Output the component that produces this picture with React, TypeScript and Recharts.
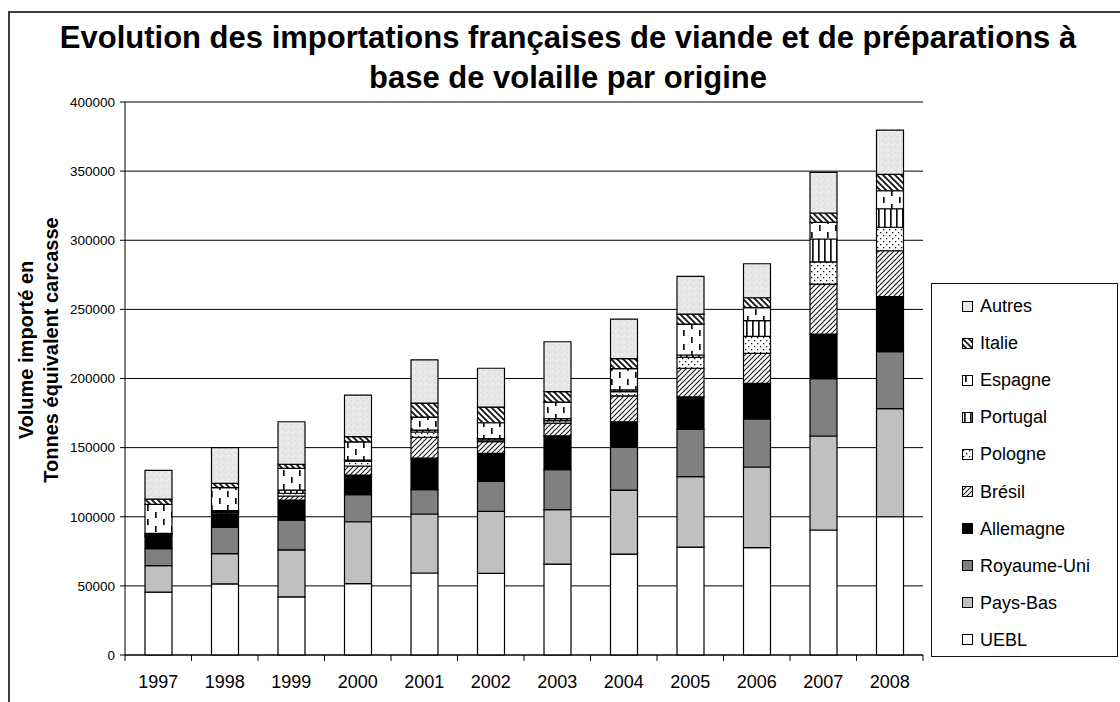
import React from 'react';
import { BarChart, Bar, XAxis, YAxis, CartesianGrid, Legend } from 'recharts';

const years = ['1997', '1998', '1999', '2000', '2001', '2002', '2003', '2004', '2005', '2006', '2007', '2008'];
const uebl = [45500, 51400, 42000, 51600, 59300, 59100, 65800, 73000, 78100, 77600, 90400, 100000];
const paysBas = [19100, 21900, 34000, 44800, 42700, 44800, 39300, 46300, 50900, 58400, 68000, 78200];
const royaumeUni = [12300, 19000, 21500, 19600, 17600, 21700, 28900, 30900, 34300, 34700, 41500, 41200];
const allemagne = [8700, 9700, 14600, 14200, 22900, 20300, 24500, 18500, 23500, 25800, 32300, 39800];
const bresil = [1000, 1000, 2900, 6500, 15000, 8400, 9200, 18700, 20600, 21700, 36100, 33200];
const pologne = [700, 800, 2000, 3600, 3800, 1200, 1800, 3100, 7900, 12300, 16000, 17000];
const portugal = [700, 600, 2300, 700, 1400, 1000, 1500, 1200, 1700, 11300, 16600, 13400];
const espagne = [21000, 16600, 15700, 13100, 9300, 11500, 11900, 15400, 22400, 9400, 12100, 13000];
const italie = [3700, 3200, 2900, 3800, 10200, 11300, 7600, 7300, 7200, 7200, 6700, 11900];
const autres = [20900, 25800, 30800, 30100, 31300, 28100, 36100, 28500, 27300, 24600, 29400, 32000];
const yTicks = [0, 50000, 100000, 150000, 200000, 250000, 300000, 350000, 400000];

const seriesDefs = [
  { key: 'uebl', name: 'UEBL', values: uebl, fill: '#ffffff' },
  { key: 'paysBas', name: 'Pays-Bas', values: paysBas, fill: '#c0c0c0' },
  { key: 'royaumeUni', name: 'Royaume-Uni', values: royaumeUni, fill: '#808080' },
  { key: 'allemagne', name: 'Allemagne', values: allemagne, fill: '#000000' },
  { key: 'bresil', name: 'Brésil', values: bresil, fill: 'url(#pBresil)' },
  { key: 'pologne', name: 'Pologne', values: pologne, fill: 'url(#pPologne)' },
  { key: 'portugal', name: 'Portugal', values: portugal, fill: 'url(#pPortugal)' },
  { key: 'espagne', name: 'Espagne', values: espagne, fill: 'url(#pEspagne)' },
  { key: 'italie', name: 'Italie', values: italie, fill: 'url(#pItalie)' },
  { key: 'autres', name: 'Autres', values: autres, fill: 'url(#pAutres)' },
];

const data = years.map((y, i) => {
  const row: any = { year: y };
  seriesDefs.forEach((s) => { row[s.key] = s.values[i]; });
  return row;
});

const W = 1120;
const H = 702;
const MARGIN = { top: 102, right: 197, bottom: 17, left: 65 };
const Y_AXIS_W = 60;
const PLOT_W = W - MARGIN.left - MARGIN.right - Y_AXIS_W;
const BAND = PLOT_W / years.length;
const FONT = '"Liberation Sans", Arial, Helvetica, sans-serif';

const XTick = (props: any) => {
  const { x, y, payload, index } = props;
  const axisY = y - 6;
  const left = x - BAND / 2;
  const right = x + BAND / 2;
  return (
    <g>
      <line x1={left} x2={left} y1={axisY} y2={axisY + 6} stroke="#000" strokeWidth={1} />
      {index === years.length - 1 && (
        <line x1={right} x2={right} y1={axisY} y2={axisY + 6} stroke="#000" strokeWidth={1} />
      )}
      <text x={x} y={axisY + 33} textAnchor="middle" fontSize={18} fontFamily={FONT} fill="#000">
        {payload.value}
      </text>
    </g>
  );
};

const renderLegend = () => {
  const items = [...seriesDefs].reverse();
  return (
    <div
      style={{
        position: 'relative',
        width: 187,
        height: 374,
        boxSizing: 'border-box',
        border: '1.5px solid #111',
        background: '#fff',
        fontFamily: FONT,
        fontSize: 18,
        color: '#000',
      }}
    >
      {items.map((s, i) => (
        <div
          key={s.key}
          style={{ position: 'absolute', left: 30, top: 22 + i * 37.1 - 12, height: 24, display: 'flex', alignItems: 'center' }}
        >
          <svg width={11} height={11} style={{ display: 'block' }}>
            <rect x={0.5} y={0.5} width={10} height={10} fill={s.fill} stroke="#000" strokeWidth={1} />
          </svg>
          <span style={{ marginLeft: 7, lineHeight: '24px', whiteSpace: 'nowrap' }}>{s.name}</span>
        </div>
      ))}
    </div>
  );
};

export default function App() {
  return (
    <div style={{ position: 'fixed', left: 0, top: 0, width: W, height: H, overflow: 'hidden', background: '#fff' }}>
      <div
        style={{
          position: 'absolute',
          left: 8,
          top: 11,
          width: 1300,
          height: 900,
          borderLeft: '2px solid #3c3c3c',
          borderTop: '2px solid #3c3c3c',
        }}
      />
      <div style={{ position: 'absolute', left: 0, top: 0 }}>
        <BarChart width={W} height={H} data={data} margin={MARGIN} barSize={27}>
          <defs>
            <pattern id="pBresil" patternUnits="userSpaceOnUse" width="5" height="5">
              <rect width="5" height="5" fill="#fff" />
              <path d="M-1,1 l2,-2 M0,5 l5,-5 M4,6 l2,-2" stroke="#1a1a1a" strokeWidth="1.1" />
            </pattern>
            <pattern id="pItalie" patternUnits="userSpaceOnUse" width="6" height="6">
              <rect width="6" height="6" fill="#fff" />
              <path d="M-1,5 l2,2 M0,0 l6,6 M5,-1 l2,2" stroke="#111" strokeWidth="1.8" />
            </pattern>
            <pattern id="pPologne" patternUnits="userSpaceOnUse" width="6" height="6">
              <rect width="6" height="6" fill="#fff" />
              <rect x="1" y="1" width="1.3" height="1.3" fill="#111" />
              <rect x="4" y="4" width="1.3" height="1.3" fill="#111" />
            </pattern>
            <pattern id="pPortugal" patternUnits="userSpaceOnUse" width="6" height="6">
              <rect width="6" height="6" fill="#fff" />
              <rect x="2" y="0" width="1.7" height="6" fill="#111" />
            </pattern>
            <pattern id="pEspagne" patternUnits="userSpaceOnUse" width="16" height="14">
              <rect width="16" height="14" fill="#fff" />
              <rect x="3" y="1" width="1.7" height="6" fill="#111" />
              <rect x="11" y="8" width="1.7" height="6" fill="#111" />
            </pattern>
            <pattern id="pAutres" patternUnits="userSpaceOnUse" width="6" height="6">
              <rect width="6" height="6" fill="#e7e7e7" />
              <rect x="1" y="2" width="1" height="1" fill="#d4d4d4" />
              <rect x="4" y="0" width="1" height="1" fill="#f5f5f5" />
              <rect x="3" y="4" width="1" height="1" fill="#d2d2d2" />
              <rect x="0" y="5" width="1" height="1" fill="#f3f3f3" />
            </pattern>
          </defs>
          <text x={568} y={48} textAnchor="middle" fontSize={31} fontWeight="bold" fontFamily={FONT} fill="#000">
            Evolution des importations françaises de viande et de préparations à
          </text>
          <text x={568} y={88} textAnchor="middle" fontSize={31} fontWeight="bold" fontFamily={FONT} fill="#000">
            base de volaille par origine
          </text>
          <g transform="translate(33,350) rotate(-90)">
            <text x={0} y={0} textAnchor="middle" fontSize={20} fontWeight="bold" fontFamily={FONT} fill="#000">
              Volume importé en
            </text>
            <text x={0} y={25} textAnchor="middle" fontSize={20} fontWeight="bold" fontFamily={FONT} fill="#000">
              Tonnes équivalent carcasse
            </text>
          </g>
          <CartesianGrid vertical={false} stroke="#000" strokeWidth={1} />
          <XAxis
            dataKey="year"
            height={30}
            tickLine={false}
            tickSize={6}
            tickMargin={0}
            axisLine={{ stroke: '#000', strokeWidth: 1 }}
            tick={<XTick />}
            interval={0}
          />
          <YAxis
            width={Y_AXIS_W}
            domain={[0, 400000]}
            ticks={yTicks}
            interval={0}
            tickSize={5}
            tickMargin={5}
            axisLine={{ stroke: '#000', strokeWidth: 1 }}
            tickLine={{ stroke: '#000', strokeWidth: 1 }}
            tick={{ fontSize: 13.5, fontFamily: FONT, fill: '#000' }}
          />
          <Legend
            layout="horizontal"
            verticalAlign="middle"
            align="center"
            content={renderLegend}
            wrapperStyle={{ left: 931, top: 283, width: 187, height: 374 }}
          />
          {seriesDefs.map((s) => (
            <Bar
              key={s.key}
              dataKey={s.key}
              name={s.name}
              stackId="a"
              fill={s.fill}
              stroke="#000"
              strokeWidth={1.2}
              isAnimationActive={false}
            />
          ))}
        </BarChart>
      </div>
    </div>
  );
}
